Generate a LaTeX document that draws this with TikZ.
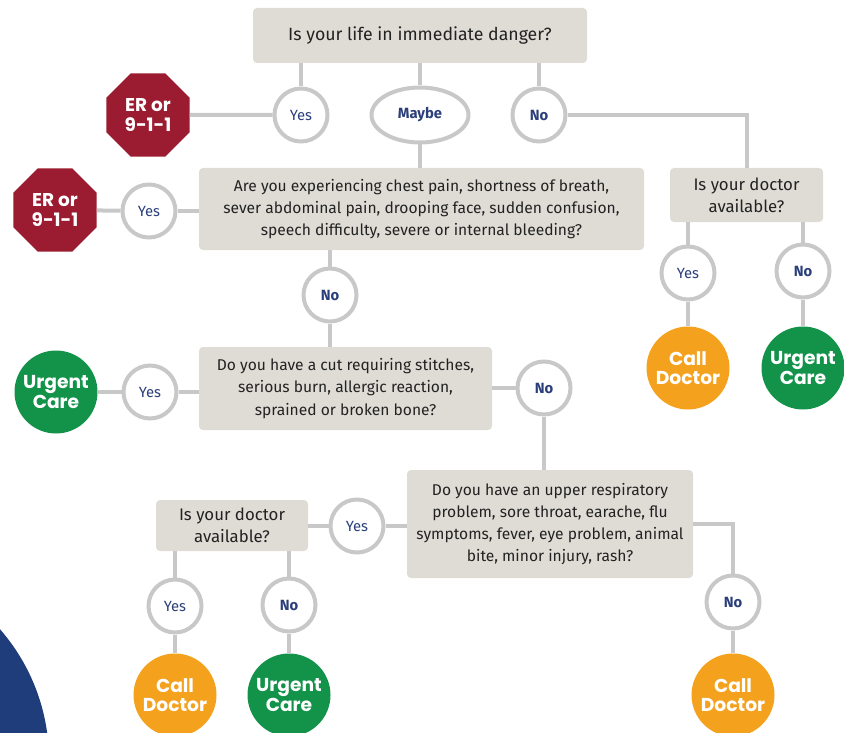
\documentclass[tikz,border=0pt]{standalone}
\usepackage{fontspec}
\setmainfont{Fira Sans}
\newfontfamily\labelfont{Poppins}
\usetikzlibrary{shapes.geometric}

\definecolor{boxgray}{HTML}{DEDCD5}
\definecolor{linegray}{HTML}{C8C8C8}
\definecolor{textdark}{HTML}{222222}
\definecolor{navy}{HTML}{2B3F7A}
\definecolor{errred}{HTML}{9B1B30}
\definecolor{docorange}{HTML}{F4A11E}
\definecolor{caregreen}{HTML}{13924A}
\definecolor{cornerblue}{HTML}{1F3D7A}

\begin{document}
\begin{tikzpicture}[x=1pt, y=-1pt,
    question/.style={fill=boxgray, rounded corners=4pt, align=center, inner sep=0pt,
        text=textdark, font=\fontsize{15.6}{22.2}\selectfont},
    answer/.style={circle, draw=linegray, line width=4pt, fill=white, minimum size=53pt,
        inner sep=0pt, text=navy, font=\fontsize{14.8}{16}\selectfont},
    answerbold/.style={answer, font=\fontsize{14.8}{16}\selectfont\bfseries},
    outcome/.style={circle, minimum size=83pt, inner sep=0pt, text=white, align=center,
        font=\labelfont\bfseries\fontsize{18.7}{19.5}\selectfont},
    stopsign/.style={regular polygon, regular polygon sides=8, minimum size=90pt, inner sep=0pt,
        fill=errred, text=white, align=center, font=\labelfont\bfseries\fontsize{18.5}{20}\selectfont},
    link/.style={draw=linegray, line width=4pt}]

    % Fix the page size
    \useasboundingbox (0,0) rectangle (844,733);
    \clip (0,0) rectangle (844,733);

    % Blue corner in the bottom left
    \fill[cornerblue] (-150,760) circle (199);

    % Define the questions
    \node[question, minimum width=334pt, minimum height=55pt, font=\fontsize{17.7}{22}\selectfont]
        (danger) at (420,35.5) {Is your life in immediate danger?};
    \node[question, minimum width=445pt, minimum height=82pt] (chest) at (421.5,209)
        {Are you experiencing chest pain, shortness of breath,\\
         sever abdominal pain, drooping face, sudden confusion,\\
         speech difficulty, severe or internal bleeding?};
    \node[question, minimum width=153pt, minimum height=54pt, font=\fontsize{16.8}{22}\selectfont]
        (docA) at (746.5,195) {Is your doctor\\available?};
    \node[question, minimum width=293pt, minimum height=83pt] (cut) at (345.5,388.5)
        {Do you have a cut requiring stitches,\\
         serious burn, allergic reaction,\\
         sprained or broken bone?};
    \node[question, minimum width=286pt, minimum height=108pt] (resp) at (550,524)
        {Do you have an upper respiratory\\
         problem, sore throat, earache, flu\\
         symptoms, fever, eye problem, animal\\
         bite, minor injury, rash?};
    \node[question, minimum width=152pt, minimum height=51pt, font=\fontsize{16.8}{22}\selectfont]
        (docB) at (232,525.5) {Is your doctor\\available?};

    % Define the answers
    \node[answer] (yesA) at (301,115) {Yes};
    \node[answerbold, ellipse, minimum width=97pt, minimum height=55pt] (maybe) at (420,115) {Maybe};
    \node[answerbold] (noA) at (539,115) {No};
    \node[answer] (yesB) at (149,211) {Yes};
    \node[answerbold] (noB) at (330,295) {No};
    \node[answer] (yesC) at (688,273) {Yes};
    \node[answerbold] (noC) at (803,271) {No};
    \node[answer] (yesD) at (150,392) {Yes};
    \node[answerbold] (noD) at (544,388) {No};
    \node[answer] (yesE) at (357,526) {Yes};
    \node[answer] (yesF) at (175,606) {Yes};
    \node[answerbold] (noF) at (289,605) {No};
    \node[answerbold] (noE) at (733,602) {No};

    % Define the outcomes
    \node[stopsign] (erA) at (148,115) {ER or\\9-1-1};
    \node[stopsign] (erB) at (55,210) {ER or\\9-1-1};
    \node[outcome, fill=docorange] (callC) at (688,368) {Call\\Doctor};
    \node[outcome, fill=caregreen] (careC) at (803,368) {Urgent\\Care};
    \node[outcome, fill=caregreen] (careD) at (56,392) {Urgent\\Care};
    \node[outcome, fill=docorange] (callF) at (175,695) {Call\\Doctor};
    \node[outcome, fill=caregreen] (careF) at (289,695) {Urgent\\Care};
    \node[outcome, fill=docorange] (callE) at (733,695) {Call\\Doctor};

    % Draw the links from the first question
    \draw[link] (yesA) -- (yesA |- danger.south);
    \draw[link] (maybe) -- (maybe |- danger.south);
    \draw[link] (noA) -- (noA |- danger.south);
    \draw[link] (yesA) -- (erA);
    \draw[link] (maybe) -- (maybe |- chest.north);
    \draw[link] (noA) -| (docA);

    % Draw the links around the second question
    \draw[link] (yesB) -- (yesB -| chest.west);
    \draw[link] (yesB) -- (erB);
    \draw[link] (noB) -- (noB |- chest.south);
    \draw[link] (noB) -- (noB |- cut.north);

    % Doctor available on the right
    \draw[link] (yesC) -- (yesC |- docA.south);
    \draw[link] (noC) -- (noC |- docA.south);
    \draw[link] (yesC) -- (callC);
    \draw[link] (noC) -- (careC);

    % Draw the links around the third question
    \draw[link] (yesD) -- (yesD -| cut.west);
    \draw[link] (yesD) -- (careD);
    \draw[link] (noD) -- (noD -| cut.east);
    \draw[link] (noD) -- (noD |- resp.north);

    % Draw the links around the last question
    \draw[link] (yesE) -- (yesE -| resp.west);
    \draw[link] (yesE) -- (yesE -| docB.east);
    \draw[link] (noE) |- (resp.east);
    \draw[link] (noE) -- (callE);

    % Doctor available at the bottom
    \draw[link] (yesF) -- (yesF |- docB.south);
    \draw[link] (noF) -- (noF |- docB.south);
    \draw[link] (yesF) -- (callF);
    \draw[link] (noF) -- (careF);

\end{tikzpicture}
\end{document}
